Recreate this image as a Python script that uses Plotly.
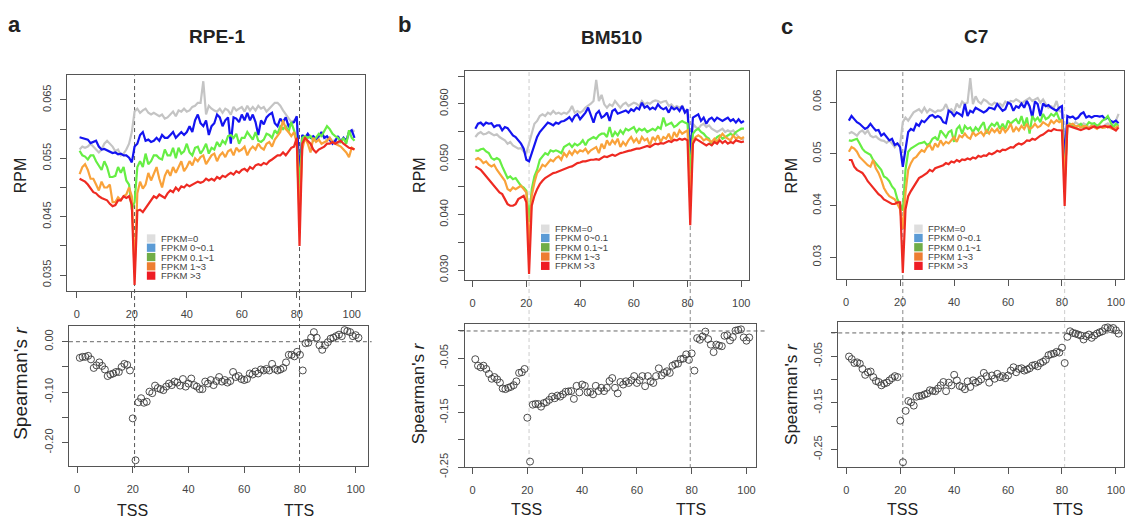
import plotly.graph_objects as go

W, H = 1125, 529

# bins along the gene body (TSS at bin 21, TTS at bin 81)
bins = list(range(1, 102))
tss_bin, tts_bin = 21, 81
x_ticks = [0, 20, 40, 60, 80, 100]

series_names = ['FPKM=0', 'FPKM 0~0.1', 'FPKM 0.1~1', 'FPKM 1~3', 'FPKM >3']
line_colors = ['#c4c4c4', '#1414f0', '#66ee44', '#f9a23a', '#ee2a22']
legend_colors = ['#dedede', '#5b9bd5', '#70ad47', '#ed7d31', '#ee1c24']

# ---- RPE-1 ----
rpe_grey = [0.0565, 0.0570, 0.0568, 0.0570, 0.0575, 0.0570, 0.0565, 0.0560, 0.0565, 0.0575,
            0.0580, 0.0575, 0.0570, 0.0562, 0.0565, 0.0555, 0.0558, 0.0565, 0.0575, 0.0595,
            0.0630, 0.0635, 0.0628, 0.0632, 0.0635, 0.0628, 0.0625, 0.0628, 0.0625, 0.0622,
            0.0625, 0.0618, 0.0620, 0.0625, 0.0630, 0.0622, 0.0632, 0.0630, 0.0635, 0.0630,
            0.0632, 0.0638, 0.0640, 0.0645, 0.0645, 0.0682, 0.0625, 0.0640, 0.0635, 0.0632,
            0.0630, 0.0635, 0.0628, 0.0635, 0.0632, 0.0625, 0.0638, 0.0632, 0.0635, 0.0638,
            0.0630, 0.0640, 0.0632, 0.0638, 0.0632, 0.0640, 0.0635, 0.0638, 0.0630, 0.0635,
            0.0640, 0.0645, 0.0645, 0.0640, 0.0632, 0.0625, 0.0618, 0.0612, 0.0615, 0.0618,
            0.0520, 0.0588, 0.0585, 0.0590, 0.0588, 0.0582, 0.0580, 0.0585, 0.0592, 0.0588,
            0.0580, 0.0585, 0.0578, 0.0582, 0.0575, 0.0580, 0.0585, 0.0578, 0.0592, 0.0595,
            0.0598]
rpe_blue = [0.0586, 0.0585, 0.0583, 0.0582, 0.0576, 0.0578, 0.0580, 0.0570, 0.0565, 0.0566,
            0.0564, 0.0562, 0.0559, 0.0560, 0.0557, 0.0558, 0.0555, 0.0555, 0.0551, 0.0543,
            0.0570, 0.0575, 0.0590, 0.0595, 0.0580, 0.0582, 0.0578, 0.0580, 0.0585, 0.0580,
            0.0590, 0.0585, 0.0585, 0.0590, 0.0595, 0.0585, 0.0590, 0.0595, 0.0590, 0.0595,
            0.0605, 0.0595, 0.0615, 0.0625, 0.0610, 0.0605, 0.0615, 0.0590, 0.0605, 0.0610,
            0.0625, 0.0620, 0.0605, 0.0615, 0.0620, 0.0575, 0.0620, 0.0618, 0.0612, 0.0625,
            0.0615, 0.0628, 0.0615, 0.0625, 0.0612, 0.0590, 0.0615, 0.0608, 0.0620, 0.0625,
            0.0628, 0.0610, 0.0605, 0.0618, 0.0612, 0.0620, 0.0605, 0.0610, 0.0612, 0.0622,
            0.0520, 0.0590, 0.0585, 0.0592, 0.0585, 0.0588, 0.0583, 0.0588, 0.0595, 0.0585,
            0.0588, 0.0582, 0.0575, 0.0580, 0.0588, 0.0578, 0.0585, 0.0580, 0.0595, 0.0598,
            0.0585]
rpe_green = [0.0563, 0.0555, 0.0553, 0.0548, 0.0555, 0.0555, 0.0545, 0.0538, 0.0530, 0.0545,
             0.0535, 0.0518, 0.0518, 0.0520, 0.0535, 0.0525, 0.0535, 0.0512, 0.0505, 0.0462,
             0.0475, 0.0535, 0.0545, 0.0535, 0.0558, 0.0540, 0.0545, 0.0555, 0.0555, 0.0550,
             0.0548, 0.0565, 0.0555, 0.0555, 0.0568, 0.0550, 0.0568, 0.0558, 0.0562, 0.0575,
             0.0560, 0.0555, 0.0568, 0.0570, 0.0558, 0.0565, 0.0575, 0.0558, 0.0568, 0.0565,
             0.0578, 0.0570, 0.0580, 0.0575, 0.0588, 0.0590, 0.0585, 0.0592, 0.0575, 0.0585,
             0.0585, 0.0595, 0.0588, 0.0582, 0.0595, 0.0580, 0.0578, 0.0582, 0.0592, 0.0590,
             0.0585, 0.0598, 0.0592, 0.0605, 0.0600, 0.0605, 0.0595, 0.0612, 0.0598, 0.0580,
             0.0500, 0.0585, 0.0588, 0.0585, 0.0588, 0.0580, 0.0585, 0.0592, 0.0588, 0.0598,
             0.0605, 0.0600, 0.0592, 0.0588, 0.0585, 0.0578, 0.0585, 0.0575, 0.0598, 0.0585,
             0.0580]
rpe_orange = [0.0523, 0.0535, 0.0540, 0.0530, 0.0515, 0.0515, 0.0505, 0.0495, 0.0510, 0.0500,
              0.0500, 0.0505, 0.0475, 0.0475, 0.0483, 0.0478, 0.0485, 0.0488, 0.0500, 0.0485,
              0.0355, 0.0490, 0.0510, 0.0498, 0.0505, 0.0525, 0.0512, 0.0522, 0.0535, 0.0515,
              0.0500, 0.0520, 0.0530, 0.0520, 0.0535, 0.0525, 0.0535, 0.0545, 0.0528, 0.0535,
              0.0545, 0.0538, 0.0550, 0.0545, 0.0552, 0.0555, 0.0540, 0.0548, 0.0555, 0.0558,
              0.0545, 0.0555, 0.0560, 0.0552, 0.0562, 0.0565, 0.0555, 0.0568, 0.0562, 0.0565,
              0.0570, 0.0555, 0.0565, 0.0570, 0.0565, 0.0575, 0.0568, 0.0565, 0.0575, 0.0578,
              0.0570, 0.0582, 0.0588, 0.0595, 0.0615, 0.0600, 0.0595, 0.0588, 0.0595, 0.0575,
              0.0450, 0.0565, 0.0585, 0.0575, 0.0560, 0.0585, 0.0578, 0.0582, 0.0575, 0.0578,
              0.0580, 0.0585, 0.0578, 0.0575, 0.0572, 0.0570, 0.0565, 0.0560, 0.0552, 0.0568,
              0.0565]
rpe_red = [0.0515, 0.0512, 0.0510, 0.0505, 0.0498, 0.0492, 0.0490, 0.0485, 0.0482, 0.0480,
           0.0478, 0.0472, 0.0468, 0.0470, 0.0478, 0.0478, 0.0485, 0.0482, 0.0485, 0.0470,
           0.0333, 0.0460, 0.0462, 0.0458, 0.0465, 0.0470, 0.0478, 0.0485, 0.0482, 0.0488,
           0.0485, 0.0482, 0.0490, 0.0495, 0.0492, 0.0500, 0.0495, 0.0502, 0.0500, 0.0505,
           0.0502, 0.0505, 0.0508, 0.0510, 0.0508, 0.0510, 0.0515, 0.0512, 0.0515, 0.0512,
           0.0518, 0.0515, 0.0520, 0.0518, 0.0522, 0.0525, 0.0522, 0.0528, 0.0525, 0.0530,
           0.0532, 0.0528, 0.0535, 0.0532, 0.0538, 0.0540, 0.0538, 0.0542, 0.0540, 0.0545,
           0.0548, 0.0552, 0.0555, 0.0555, 0.0560, 0.0555, 0.0562, 0.0568, 0.0570, 0.0585,
           0.0400, 0.0575, 0.0585, 0.0580, 0.0575, 0.0565, 0.0560, 0.0565, 0.0568, 0.0570,
           0.0575, 0.0575, 0.0578, 0.0575, 0.0578, 0.0580, 0.0575, 0.0572, 0.0568, 0.0567,
           0.0565]
rpe_r = [-0.032, -0.030, -0.030, -0.028, -0.035, -0.052, -0.047, -0.041, -0.048, -0.055,
         -0.068, -0.065, -0.063, -0.060, -0.060, -0.050, -0.044, -0.046, -0.057, -0.152,
         -0.235, -0.120, -0.112, -0.121, -0.119, -0.099, -0.102, -0.087, -0.092, -0.094,
         -0.096, -0.089, -0.083, -0.086, -0.079, -0.081, -0.087, -0.074, -0.089, -0.083,
         -0.073, -0.086, -0.089, -0.094, -0.094, -0.079, -0.083, -0.076, -0.086, -0.078,
         -0.070, -0.079, -0.076, -0.081, -0.078, -0.060, -0.070, -0.068, -0.074, -0.076,
         -0.074, -0.063, -0.065, -0.059, -0.063, -0.055, -0.057, -0.054, -0.057, -0.044,
         -0.054, -0.057, -0.055, -0.052, -0.041, -0.026, -0.026, -0.029, -0.020, -0.026,
         -0.057, -0.003, -0.002, 0.008, 0.019, 0.008, -0.007, -0.016, -0.007, -0.001,
         0.006, 0.008, 0.011, 0.014, 0.011, 0.023, 0.021, 0.019, 0.011, 0.013,
         0.008]

# ---- BM510 ----
bm_grey = [0.0540, 0.0546, 0.0549, 0.0545, 0.0546, 0.0549, 0.0546, 0.0543, 0.0545, 0.0540,
           0.0537, 0.0534, 0.0528, 0.0531, 0.0525, 0.0522, 0.0519, 0.0520, 0.0514, 0.0511,
           0.0528, 0.0549, 0.0564, 0.0569, 0.0578, 0.0581, 0.0578, 0.0584, 0.0581, 0.0587,
           0.0582, 0.0584, 0.0581, 0.0584, 0.0582, 0.0587, 0.0596, 0.0584, 0.0587, 0.0584,
           0.0587, 0.0593, 0.0596, 0.0600, 0.0605, 0.0643, 0.0605, 0.0616, 0.0599, 0.0593,
           0.0599, 0.0596, 0.0605, 0.0599, 0.0593, 0.0599, 0.0602, 0.0596, 0.0599, 0.0602,
           0.0600, 0.0596, 0.0605, 0.0599, 0.0602, 0.0600, 0.0604, 0.0606, 0.0605, 0.0602,
           0.0604, 0.0605, 0.0596, 0.0599, 0.0593, 0.0596, 0.0593, 0.0596, 0.0587, 0.0581,
           0.0500, 0.0564, 0.0558, 0.0555, 0.0561, 0.0564, 0.0558, 0.0561, 0.0555, 0.0552,
           0.0549, 0.0552, 0.0555, 0.0549, 0.0552, 0.0549, 0.0552, 0.0546, 0.0540, 0.0537,
           0.0535]
bm_blue = [0.0555, 0.0564, 0.0566, 0.0561, 0.0566, 0.0564, 0.0565, 0.0558, 0.0561, 0.0561,
           0.0552, 0.0558, 0.0556, 0.0549, 0.0543, 0.0540, 0.0534, 0.0528, 0.0519, 0.0499,
           0.0496, 0.0511, 0.0528, 0.0540, 0.0549, 0.0555, 0.0561, 0.0566, 0.0564, 0.0561,
           0.0566, 0.0564, 0.0568, 0.0569, 0.0572, 0.0576, 0.0569, 0.0578, 0.0581, 0.0572,
           0.0578, 0.0584, 0.0593, 0.0581, 0.0566, 0.0582, 0.0587, 0.0575, 0.0578, 0.0584,
           0.0569, 0.0587, 0.0590, 0.0582, 0.0584, 0.0587, 0.0588, 0.0584, 0.0590, 0.0587,
           0.0593, 0.0590, 0.0602, 0.0593, 0.0596, 0.0590, 0.0593, 0.0590, 0.0599, 0.0593,
           0.0590, 0.0593, 0.0584, 0.0594, 0.0590, 0.0593, 0.0587, 0.0596, 0.0584, 0.0590,
           0.0505, 0.0575, 0.0578, 0.0581, 0.0569, 0.0575, 0.0564, 0.0572, 0.0575, 0.0569,
           0.0575, 0.0572, 0.0569, 0.0572, 0.0575, 0.0569, 0.0572, 0.0566, 0.0572, 0.0566,
           0.0569]
bm_green = [0.0516, 0.0515, 0.0518, 0.0519, 0.0514, 0.0511, 0.0502, 0.0499, 0.0502, 0.0499,
            0.0487, 0.0475, 0.0466, 0.0469, 0.0464, 0.0466, 0.0458, 0.0452, 0.0449, 0.0443,
            0.0387, 0.0446, 0.0469, 0.0481, 0.0499, 0.0505, 0.0511, 0.0508, 0.0516, 0.0514,
            0.0516, 0.0514, 0.0511, 0.0522, 0.0525, 0.0528, 0.0522, 0.0528, 0.0525, 0.0528,
            0.0534, 0.0525, 0.0534, 0.0537, 0.0540, 0.0537, 0.0543, 0.0546, 0.0546, 0.0540,
            0.0558, 0.0540, 0.0549, 0.0543, 0.0552, 0.0546, 0.0555, 0.0552, 0.0555, 0.0558,
            0.0549, 0.0555, 0.0552, 0.0555, 0.0549, 0.0552, 0.0555, 0.0552, 0.0558, 0.0555,
            0.0575, 0.0561, 0.0564, 0.0566, 0.0558, 0.0561, 0.0566, 0.0569, 0.0566, 0.0564,
            0.0475, 0.0546, 0.0552, 0.0555, 0.0549, 0.0546, 0.0540, 0.0537, 0.0525, 0.0534,
            0.0540, 0.0543, 0.0537, 0.0540, 0.0543, 0.0546, 0.0543, 0.0549, 0.0552, 0.0555,
            0.0555]
bm_orange = [0.0499, 0.0502, 0.0499, 0.0493, 0.0496, 0.0490, 0.0487, 0.0490, 0.0481, 0.0475,
             0.0469, 0.0461, 0.0446, 0.0443, 0.0449, 0.0446, 0.0449, 0.0452, 0.0446, 0.0440,
             0.0340, 0.0434, 0.0458, 0.0475, 0.0481, 0.0490, 0.0487, 0.0493, 0.0499, 0.0496,
             0.0502, 0.0505, 0.0499, 0.0511, 0.0505, 0.0514, 0.0508, 0.0516, 0.0511, 0.0516,
             0.0514, 0.0519, 0.0511, 0.0516, 0.0519, 0.0522, 0.0511, 0.0528, 0.0519, 0.0534,
             0.0525, 0.0534, 0.0528, 0.0537, 0.0522, 0.0531, 0.0525, 0.0534, 0.0540, 0.0531,
             0.0537, 0.0528, 0.0540, 0.0534, 0.0537, 0.0525, 0.0540, 0.0534, 0.0543, 0.0531,
             0.0540, 0.0537, 0.0546, 0.0534, 0.0549, 0.0540, 0.0552, 0.0546, 0.0549, 0.0552,
             0.0422, 0.0534, 0.0540, 0.0543, 0.0540, 0.0534, 0.0537, 0.0534, 0.0531, 0.0537,
             0.0531, 0.0540, 0.0546, 0.0540, 0.0537, 0.0534, 0.0543, 0.0537, 0.0540, 0.0537,
             0.0540]
bm_red = [0.0487, 0.0484, 0.0481, 0.0475, 0.0469, 0.0464, 0.0458, 0.0452, 0.0446, 0.0440,
          0.0437, 0.0428, 0.0419, 0.0416, 0.0416, 0.0419, 0.0428, 0.0431, 0.0434, 0.0422,
          0.0293, 0.0416, 0.0434, 0.0446, 0.0455, 0.0461, 0.0466, 0.0469, 0.0472, 0.0475,
          0.0476, 0.0478, 0.0481, 0.0482, 0.0484, 0.0486, 0.0487, 0.0490, 0.0493, 0.0494,
          0.0496, 0.0496, 0.0498, 0.0499, 0.0499, 0.0500, 0.0499, 0.0502, 0.0505, 0.0504,
          0.0506, 0.0508, 0.0506, 0.0509, 0.0511, 0.0512, 0.0514, 0.0515, 0.0516, 0.0518,
          0.0519, 0.0519, 0.0521, 0.0522, 0.0524, 0.0522, 0.0525, 0.0528, 0.0527, 0.0529,
          0.0528, 0.0531, 0.0533, 0.0531, 0.0535, 0.0534, 0.0537, 0.0535, 0.0537, 0.0534,
          0.0381, 0.0528, 0.0537, 0.0534, 0.0531, 0.0528, 0.0525, 0.0528, 0.0525, 0.0531,
          0.0528, 0.0534, 0.0529, 0.0533, 0.0528, 0.0531, 0.0529, 0.0534, 0.0533, 0.0531,
          0.0532]
bm_r = [-0.0519, -0.0638, -0.0668, -0.0638, -0.0698, -0.0788, -0.0877, -0.0847, -0.0889, -0.0949,
        -0.1056, -0.1068, -0.1044, -0.1026, -0.0996, -0.0925, -0.0770, -0.0758, -0.0698, -0.1593,
        -0.2399, -0.1354, -0.1340, -0.1342, -0.1390, -0.1325, -0.1307, -0.1265, -0.1205, -0.1235,
        -0.1187, -0.1205, -0.1163, -0.1116, -0.1110, -0.1104, -0.1247, -0.1008, -0.1128, -0.0984,
        -0.1008, -0.1128, -0.1120, -0.1163, -0.1008, -0.1104, -0.1044, -0.1104, -0.1044, -0.0919,
        -0.0865, -0.1044, -0.1146, -0.0937, -0.0984, -0.0925, -0.0955, -0.0907, -0.0829, -0.0955,
        -0.0907, -0.0829, -0.1014, -0.0829, -0.0925, -0.0955, -0.0829, -0.0686, -0.0817, -0.0770,
        -0.0740, -0.0770, -0.0638, -0.0609, -0.0600, -0.0519, -0.0507, -0.0430, -0.0531, -0.0412,
        -0.0728, -0.0131, -0.0161, -0.0101, -0.0012, -0.0149, -0.0251, -0.0388, -0.0251, -0.0268,
        -0.0280, -0.0089, -0.0080, -0.0173, -0.0113, 0.0006, 0.0018, 0.0030, -0.0119, -0.0179,
        -0.0119]

# ---- C7 ----
c7_grey = [0.0539, 0.0542, 0.0539, 0.0535, 0.0542, 0.0545, 0.0539, 0.0545, 0.0535, 0.0532,
           0.0534, 0.0529, 0.0526, 0.0525, 0.0521, 0.0526, 0.0520, 0.0513, 0.0520, 0.0517,
           0.0561, 0.0570, 0.0564, 0.0573, 0.0580, 0.0583, 0.0586, 0.0580, 0.0589, 0.0580,
           0.0586, 0.0583, 0.0580, 0.0584, 0.0583, 0.0586, 0.0596, 0.0583, 0.0586, 0.0580,
           0.0597, 0.0589, 0.0601, 0.0596, 0.0599, 0.0646, 0.0596, 0.0611, 0.0601, 0.0597,
           0.0605, 0.0602, 0.0597, 0.0594, 0.0599, 0.0596, 0.0597, 0.0592, 0.0601, 0.0597,
           0.0602, 0.0601, 0.0605, 0.0602, 0.0597, 0.0601, 0.0605, 0.0608, 0.0602, 0.0605,
           0.0608, 0.0599, 0.0605, 0.0596, 0.0589, 0.0592, 0.0589, 0.0602, 0.0583, 0.0580,
           0.0507, 0.0561, 0.0558, 0.0554, 0.0561, 0.0558, 0.0554, 0.0559, 0.0556, 0.0551,
           0.0554, 0.0558, 0.0553, 0.0554, 0.0551, 0.0556, 0.0559, 0.0554, 0.0558, 0.0564,
           0.0577]
c7_blue = [0.0564, 0.0573, 0.0567, 0.0561, 0.0558, 0.0553, 0.0548, 0.0551, 0.0558, 0.0551,
           0.0545, 0.0546, 0.0535, 0.0539, 0.0532, 0.0526, 0.0529, 0.0517, 0.0520, 0.0513,
           0.0475, 0.0507, 0.0542, 0.0548, 0.0545, 0.0558, 0.0554, 0.0564, 0.0561, 0.0567,
           0.0573, 0.0575, 0.0570, 0.0573, 0.0570, 0.0561, 0.0559, 0.0583, 0.0580, 0.0573,
           0.0580, 0.0577, 0.0573, 0.0596, 0.0573, 0.0583, 0.0580, 0.0589, 0.0586, 0.0583,
           0.0580, 0.0583, 0.0589, 0.0588, 0.0586, 0.0596, 0.0589, 0.0583, 0.0586, 0.0599,
           0.0596, 0.0583, 0.0592, 0.0589, 0.0597, 0.0589, 0.0602, 0.0592, 0.0570, 0.0601,
           0.0596, 0.0573, 0.0597, 0.0592, 0.0594, 0.0589, 0.0586, 0.0583, 0.0589, 0.0592,
           0.0488, 0.0573, 0.0570, 0.0572, 0.0567, 0.0570, 0.0577, 0.0580, 0.0570, 0.0573,
           0.0570, 0.0573, 0.0573, 0.0572, 0.0573, 0.0567, 0.0570, 0.0564, 0.0561, 0.0564,
           0.0559]
c7_green = [0.0526, 0.0525, 0.0527, 0.0529, 0.0520, 0.0510, 0.0504, 0.0501, 0.0498, 0.0488,
            0.0482, 0.0475, 0.0469, 0.0456, 0.0453, 0.0447, 0.0437, 0.0431, 0.0412, 0.0403,
            0.0390, 0.0469, 0.0504, 0.0510, 0.0513, 0.0517, 0.0520, 0.0521, 0.0523, 0.0517,
            0.0520, 0.0529, 0.0532, 0.0526, 0.0545, 0.0539, 0.0532, 0.0542, 0.0545, 0.0523,
            0.0548, 0.0554, 0.0539, 0.0554, 0.0548, 0.0551, 0.0542, 0.0551, 0.0545, 0.0554,
            0.0561, 0.0539, 0.0551, 0.0558, 0.0554, 0.0561, 0.0548, 0.0558, 0.0548, 0.0564,
            0.0558, 0.0563, 0.0567, 0.0558, 0.0573, 0.0554, 0.0570, 0.0539, 0.0573, 0.0564,
            0.0570, 0.0561, 0.0577, 0.0567, 0.0570, 0.0577, 0.0573, 0.0580, 0.0567, 0.0564,
            0.0444, 0.0554, 0.0558, 0.0554, 0.0551, 0.0554, 0.0558, 0.0551, 0.0554, 0.0561,
            0.0558, 0.0559, 0.0554, 0.0558, 0.0564, 0.0567, 0.0573, 0.0561, 0.0551, 0.0558,
            0.0554]
c7_orange = [0.0504, 0.0513, 0.0510, 0.0504, 0.0494, 0.0488, 0.0482, 0.0478, 0.0475, 0.0488,
             0.0472, 0.0463, 0.0450, 0.0434, 0.0425, 0.0418, 0.0415, 0.0412, 0.0403, 0.0393,
             0.0355, 0.0425, 0.0469, 0.0482, 0.0491, 0.0494, 0.0501, 0.0507, 0.0504, 0.0513,
             0.0517, 0.0507, 0.0520, 0.0513, 0.0526, 0.0517, 0.0523, 0.0520, 0.0526, 0.0532,
             0.0523, 0.0535, 0.0532, 0.0539, 0.0532, 0.0529, 0.0542, 0.0535, 0.0539, 0.0542,
             0.0535, 0.0545, 0.0539, 0.0548, 0.0542, 0.0548, 0.0539, 0.0551, 0.0542, 0.0548,
             0.0558, 0.0542, 0.0551, 0.0545, 0.0554, 0.0548, 0.0558, 0.0548, 0.0551, 0.0558,
             0.0551, 0.0554, 0.0561, 0.0558, 0.0554, 0.0564, 0.0559, 0.0565, 0.0561, 0.0564,
             0.0444, 0.0554, 0.0556, 0.0558, 0.0553, 0.0554, 0.0551, 0.0554, 0.0553, 0.0550,
             0.0554, 0.0551, 0.0548, 0.0553, 0.0550, 0.0551, 0.0554, 0.0550, 0.0548, 0.0551,
             0.0554]
c7_red = [0.0488, 0.0488, 0.0475, 0.0469, 0.0466, 0.0463, 0.0456, 0.0447, 0.0441, 0.0434,
          0.0428, 0.0422, 0.0418, 0.0412, 0.0409, 0.0406, 0.0403, 0.0403, 0.0406, 0.0406,
          0.0270, 0.0393, 0.0418, 0.0428, 0.0437, 0.0444, 0.0453, 0.0456, 0.0460, 0.0463,
          0.0469, 0.0466, 0.0472, 0.0474, 0.0475, 0.0478, 0.0482, 0.0480, 0.0485, 0.0483,
          0.0488, 0.0485, 0.0489, 0.0488, 0.0491, 0.0489, 0.0493, 0.0491, 0.0496, 0.0494,
          0.0497, 0.0496, 0.0501, 0.0499, 0.0502, 0.0506, 0.0504, 0.0508, 0.0507, 0.0510,
          0.0513, 0.0512, 0.0517, 0.0520, 0.0518, 0.0521, 0.0526, 0.0525, 0.0529, 0.0527,
          0.0532, 0.0535, 0.0537, 0.0542, 0.0545, 0.0544, 0.0548, 0.0546, 0.0545, 0.0545,
          0.0399, 0.0554, 0.0553, 0.0551, 0.0550, 0.0548, 0.0546, 0.0548, 0.0550, 0.0548,
          0.0551, 0.0553, 0.0550, 0.0551, 0.0553, 0.0554, 0.0551, 0.0553, 0.0548, 0.0545,
          0.0551]
c7_r = [-0.0506, -0.0562, -0.0646, -0.0632, -0.0660, -0.0772, -0.0899, -0.0843, -0.0829, -0.0948,
        -0.1032, -0.1053, -0.1124, -0.1088, -0.1067, -0.1018, -0.0969, -0.0927, -0.0948, -0.1882,
        -0.2774, -0.1671, -0.1461, -0.1489, -0.1559, -0.1369, -0.1355, -0.1348, -0.1320, -0.1299,
        -0.1229, -0.1243, -0.1250, -0.1194, -0.1124, -0.1053, -0.1250, -0.1067, -0.1124, -0.0899,
        -0.1018, -0.1138, -0.1159, -0.1208, -0.1039, -0.1159, -0.1018, -0.1067, -0.1039, -0.0997,
        -0.0857, -0.0927, -0.1067, -0.0913, -0.0983, -0.0878, -0.0948, -0.0927, -0.0969, -0.0913,
        -0.0808, -0.0737, -0.0843, -0.0772, -0.0758, -0.0808, -0.0787, -0.0758, -0.0702, -0.0688,
        -0.0716, -0.0646, -0.0618, -0.0576, -0.0478, -0.0456, -0.0442, -0.0407, -0.0421, -0.0316,
        -0.0646, -0.0084, 0.0035, 0.0000, -0.0014, -0.0035, -0.0056, -0.0140, -0.0070, -0.0035,
        -0.0105, -0.0056, -0.0014, 0.0014, 0.0035, 0.0105, 0.0119, 0.0084, 0.0105, 0.0056,
        -0.0014]

# tick values / labels
rpe_rpm_ticks = [0.035, 0.040, 0.045, 0.050, 0.055, 0.060, 0.065]
rpe_rpm_text = ['0.035', '', '0.045', '', '0.055', '', '0.065']
bm_rpm_ticks = [0.030, 0.035, 0.040, 0.045, 0.050, 0.055, 0.060, 0.065]
bm_rpm_text = ['0.030', '', '0.040', '', '0.050', '', '0.060', '']
c7_rpm_ticks = [0.03, 0.04, 0.05, 0.06]
c7_rpm_text = ['0.03', '0.04', '0.05', '0.06']
rpe_r_ticks = [0.0, -0.05, -0.10, -0.15, -0.20]
rpe_r_text = ['0.00', '', '-0.10', '', '-0.20']
r_ticks = [0.0, -0.05, -0.10, -0.15, -0.20, -0.25]
r_text = ['', '-0.05', '', '-0.15', '', '-0.25']

for nm, arr in [('rpe_grey', rpe_grey), ('rpe_blue', rpe_blue), ('rpe_green', rpe_green),
                ('rpe_orange', rpe_orange), ('rpe_red', rpe_red), ('rpe_r', rpe_r),
                ('bm_grey', bm_grey), ('bm_blue', bm_blue), ('bm_green', bm_green),
                ('bm_orange', bm_orange), ('bm_red', bm_red), ('bm_r', bm_r),
                ('c7_grey', c7_grey), ('c7_blue', c7_blue), ('c7_green', c7_green),
                ('c7_orange', c7_orange), ('c7_red', c7_red), ('c7_r', c7_r)]:
    assert len(arr) == 101, (nm, len(arr))


def px_x(p):
    return p / W


def px_y(p):
    return 1 - p / H


# layout of the three panels (pixel boxes: left, top, right, bottom)
panels = [
    dict(letter='a', letter_xy=(15, 25), title='RPE-1', title_xy=(217, 37),
         profiles=[rpe_grey, rpe_blue, rpe_green, rpe_orange, rpe_red], r=rpe_r,
         top_box=(67, 77, 365, 297), top_xr=[-3.6, 104.7], top_yr=[0.0323, 0.0692],
         rpm_ticks=rpe_rpm_ticks, rpm_text=rpe_rpm_text,
         bot_box=(69, 333, 368, 476), bot_xr=[-2.9, 104.3], bot_yr=[-0.2466, 0.031],
         r_ticks=rpe_r_ticks, r_text=rpe_r_text,
         rpm_xy=(20, 179), sp_xy=(21, 391), sp_size=19,
         tss_xy=(133, 521), tts_xy=(299, 521),
         vcol=('#555555', '#555555'), zero_x=(69, 372),
         leg_x=147, leg_y=243.5),
    dict(letter='b', letter_xy=(405, 25), title='BM510', title_xy=(612, 38),
         profiles=[bm_grey, bm_blue, bm_green, bm_orange, bm_red], r=bm_r,
         top_box=(465, 72, 750, 286), top_xr=[-3.0, 103.0], top_yr=[0.0282, 0.066],
         rpm_ticks=bm_rpm_ticks, rpm_text=bm_rpm_text,
         bot_box=(465, 331, 757, 477), bot_xr=[-2.9, 103.6], bot_yr=[-0.25, 0.0126],
         r_ticks=r_ticks, r_text=r_text,
         rpm_xy=(420, 179), sp_xy=(419, 402), sp_size=17,
         tss_xy=(527, 520), tts_xy=(692, 520),
         vcol=('#cccccc', '#888888'), zero_x=(460, 767),
         leg_x=541.5, leg_y=233.5),
    dict(letter='c', letter_xy=(788, 27), title='C7', title_xy=(977, 37),
         profiles=[c7_grey, c7_blue, c7_green, c7_orange, c7_red], r=c7_r,
         top_box=(838, 73, 1125, 285), top_xr=[-3.3, 103.0], top_yr=[0.0258, 0.0659],
         rpm_ticks=c7_rpm_ticks, rpm_text=c7_rpm_text,
         bot_box=(839, 329, 1125, 477), bot_xr=[-3.0, 103.0], bot_yr=[-0.2878, 0.0231],
         r_ticks=r_ticks, r_text=r_text,
         rpm_xy=(792, 179), sp_xy=(792, 402), sp_size=17,
         tss_xy=(903, 520), tts_xy=(1069, 520),
         vcol=('#888888', '#cccccc'), zero_x=(832, 1125),
         leg_x=915, leg_y=233.5),
]


def axis_common(domain, rng, tickvals, ticktext):
    return dict(domain=domain, range=rng, tickvals=tickvals, ticktext=ticktext,
                showline=True, mirror=True, linecolor='#555555', linewidth=1,
                ticks='outside', ticklen=6, tickwidth=1, tickcolor='#555555',
                showgrid=False, zeroline=False, fixedrange=True,
                ticklabeloverflow='allow',
                tickfont=dict(family='Liberation Sans, Arial', size=11, color='#444444'))


fig = go.Figure()
layout = {}
shapes = []
annotations = []
txt_font = 'Liberation Sans, Arial'

for i, p in enumerate(panels):
    top_id, bot_id = 2 * i + 1, 2 * i + 2
    tx = 'x' if top_id == 1 else f'x{top_id}'
    ty = 'y' if top_id == 1 else f'y{top_id}'
    bx, by = f'x{bot_id}', f'y{bot_id}'

    l, t, r, b = p['top_box']
    xa = axis_common([px_x(l), px_x(r)], p['top_xr'], x_ticks, [str(v) for v in x_ticks])
    xa.update(anchor=ty, ticklabelstandoff=7)
    ya = axis_common([px_y(b), px_y(t)], p['top_yr'], p['rpm_ticks'], p['rpm_text'])
    ya.update(anchor=tx, tickangle=-90, ticklabelstandoff=5)
    layout['xaxis' if top_id == 1 else f'xaxis{top_id}'] = xa
    layout['yaxis' if top_id == 1 else f'yaxis{top_id}'] = ya

    l2, t2, r2, b2 = p['bot_box']
    xb = axis_common([px_x(l2), px_x(r2)], p['bot_xr'], x_ticks, [str(v) for v in x_ticks])
    xb.update(anchor=by, ticklabelstandoff=7)
    yb = axis_common([px_y(b2), px_y(t2)], p['bot_yr'], p['r_ticks'], p['r_text'])
    yb.update(anchor=bx, tickangle=-90, ticklabelstandoff=5)
    layout[f'xaxis{bot_id}'] = xb
    layout[f'yaxis{bot_id}'] = yb

    # RPM profiles
    for vals, col, name in zip(p['profiles'], line_colors, series_names):
        fig.add_trace(go.Scatter(x=bins, y=vals, mode='lines', name=name,
                                 line=dict(color=col, width=2.2),
                                 xaxis=tx, yaxis=ty, showlegend=False, hoverinfo='skip'))

    # Spearman's r
    fig.add_trace(go.Scatter(x=bins, y=p['r'], mode='markers',
                             marker=dict(symbol='circle-open', size=7, color='#3a3a3a',
                                         line=dict(width=0.9)),
                             xaxis=bx, yaxis=by, showlegend=False, hoverinfo='skip'))

    # TSS / TTS dashed guides through both plots
    for xv, col in zip([tss_bin, tts_bin], p['vcol']):
        shapes.append(dict(type='line', xref=tx, yref='paper', x0=xv, x1=xv,
                           y0=px_y(478), y1=px_y(t), layer='below',
                           line=dict(color=col, width=1, dash='4px,3px')))
    # zero line in correlation plot
    shapes.append(dict(type='line', xref='paper', yref=by,
                       x0=px_x(p['zero_x'][0]), x1=px_x(p['zero_x'][1]), y0=0, y1=0,
                       layer='below', line=dict(color='#666666', width=1, dash='4px,3px')))

    # legend (square keys)
    for k, (name, col) in enumerate(zip(series_names, legend_colors)):
        cy = p['leg_y'] + 9.5 * k
        shapes.append(dict(type='rect', xref='paper', yref='paper',
                           x0=px_x(p['leg_x']), x1=px_x(p['leg_x'] + 8.5),
                           y0=px_y(cy + 4.2), y1=px_y(cy - 4.2),
                           fillcolor=col, line=dict(width=0)))
        annotations.append(dict(text=name, xref='paper', yref='paper',
                                x=px_x(p['leg_x'] + 12), y=px_y(cy), xanchor='left',
                                yanchor='middle', showarrow=False,
                                font=dict(family=txt_font, size=9.5, color='#444444')))

    annotations += [
        dict(text=f"<b>{p['letter']}</b>", x=px_x(p['letter_xy'][0]), y=px_y(p['letter_xy'][1]),
             font=dict(family=txt_font, size=22, color='#222222')),
        dict(text=f"<b>{p['title']}</b>", x=px_x(p['title_xy'][0]), y=px_y(p['title_xy'][1]),
             font=dict(family=txt_font, size=19, color='#222222')),
        dict(text='RPM', x=px_x(p['rpm_xy'][0]), y=px_y(p['rpm_xy'][1]), textangle=-90,
             font=dict(family=txt_font, size=16, color='#222222')),
        dict(text="Spearman's <i>r</i>", x=px_x(p['sp_xy'][0]), y=px_y(p['sp_xy'][1]),
             textangle=-90, font=dict(family=txt_font, size=p['sp_size'], color='#222222')),
        dict(text='TSS', x=px_x(p['tss_xy'][0]), y=px_y(p['tss_xy'][1]),
             font=dict(family=txt_font, size=16, color='#222222')),
        dict(text='TTS', x=px_x(p['tts_xy'][0]), y=px_y(p['tts_xy'][1]),
             font=dict(family=txt_font, size=16, color='#222222')),
    ]

for a in annotations:
    a.setdefault('xref', 'paper')
    a.setdefault('yref', 'paper')
    a.setdefault('showarrow', False)
    a.setdefault('xanchor', 'center')
    a.setdefault('yanchor', 'middle')

fig.update_layout(width=W, height=H, margin=dict(l=0, r=0, t=0, b=0),
                  paper_bgcolor='white', plot_bgcolor='rgba(0,0,0,0)',
                  showlegend=False, shapes=shapes, annotations=annotations, **layout)

# the page body has a default 8px margin; drop it so the figure fills the window
fig.write_html("out.html", config={'displayModeBar': False},
               post_script="document.body.style.margin='0';document.body.style.overflow='hidden';")
